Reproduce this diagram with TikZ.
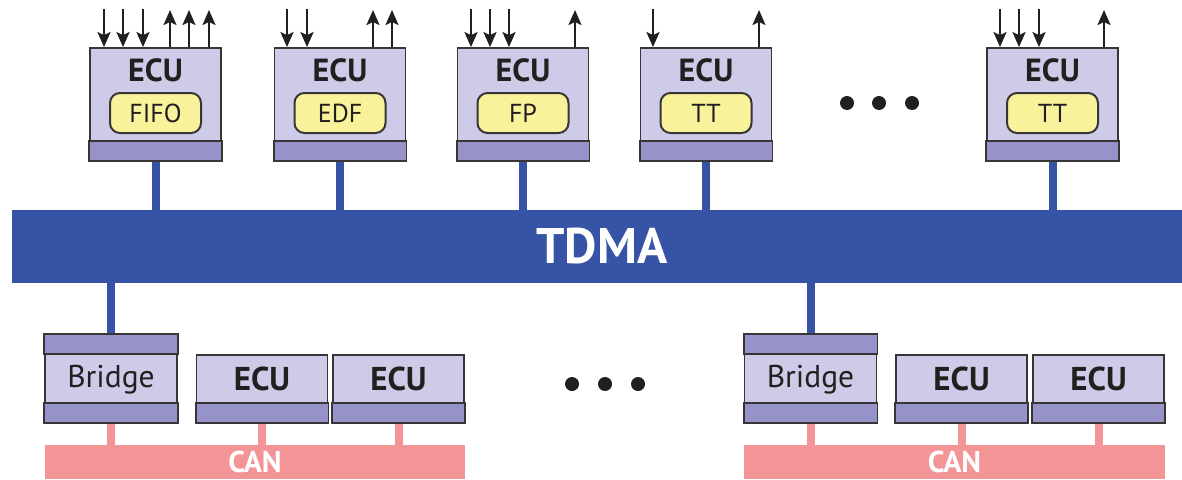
\documentclass[tikz,border=0pt]{standalone}
\usepackage{fontspec}
\setmainfont{PT Sans}
\usetikzlibrary{arrows.meta}
\definecolor{lav}{HTML}{CDCBE7}
\definecolor{band}{HTML}{9593C7}
\definecolor{yel}{HTML}{F8F39B}
\definecolor{busblue}{HTML}{3653A5}
\definecolor{canpink}{HTML}{F39596}
\definecolor{ink}{HTML}{231F20}
\tikzset{
  ecubox/.style={draw=ink!90, line width=1.8pt, fill=lav, minimum width=131pt, minimum height=112pt, inner sep=0pt},
  lowbox/.style={draw=ink!90, line width=1.8pt, fill=lav, minimum width=131pt, minimum height=67pt, inner sep=0pt},
  bridgebox/.style={draw=ink!90, line width=1.8pt, fill=lav, minimum width=132pt, minimum height=87pt, inner sep=0pt},
  bandfill/.style={draw=ink!90, line width=1.8pt, fill=band},
  schedbox/.style={draw=ink!90, line width=2pt, fill=yel, rounded corners=10pt, minimum width=91pt, minimum height=40pt, inner sep=0pt, font=\fontsize{26}{28}\selectfont, text=ink},
  ecutext/.style={font=\fontsize{32}{34}\selectfont\bfseries, text=ink, inner sep=0pt},
  lowtext/.style={font=\fontsize{33}{35}\selectfont\bfseries, text=ink, inner sep=0pt},
  bridgetext/.style={font=\fontsize{31.5}{34}\selectfont, text=ink, inner sep=0pt},
  bluestem/.style={draw=busblue, line width=8pt},
  pinkstem/.style={draw=canpink, line width=8pt},
  canbar/.style={fill=canpink, minimum height=34pt, inner sep=0pt, text=white, font=\fontsize{30}{32}\selectfont\bfseries},
  sig/.style={draw=ink, line width=2pt, -{Stealth[length=15pt,width=13pt,inset=3pt]}},
  dotmark/.style={circle, fill=ink, minimum size=14pt, inner sep=0pt},
}
\begin{document}
\begin{tikzpicture}[x=1pt,y=-1pt]
\useasboundingbox (0,0) rectangle (1182,479);
\fill[white] (0,0) rectangle (1182,479);

% TDMA bus
\node[fill=busblue, minimum width=1170pt, minimum height=73pt, inner sep=0pt] (bus) at (597,246.5) {};
\node[text=white, font=\fontsize{50}{52}\selectfont\bfseries, inner sep=0pt] (tdma) at (602,246.5) {TDMA};

% top ECUs
\foreach \n/\cx/\s in {1/155.5/FIFO, 2/340/EDF, 3/523/FP, 4/706/TT, 5/1052.5/TT}{
  \node[ecubox] (t\n) at (\cx,104) {};
  \draw[bluestem] (t\n.south) -- (t\n.south |- bus.north);
  \draw[bandfill] (t\n.south west) rectangle ([yshift=20pt]t\n.south east);
  \node[ecutext] (t\n lab) at (\cx,70) {ECU};
  \node[schedbox] (t\n s) at (\cx,113) {\s};
}

% input arrows (down)
\foreach \n/\x in {1/104,1/123,1/143,2/287,2/307,3/471,3/490,3/509,4/653,5/1000,5/1019,5/1039}{
  \coordinate (in\x) at (\x,9);
  \draw[sig] (in\x) -- (in\x |- t\n.north);
}
% output arrows (up)
\foreach \n/\x in {1/170,1/189,1/209,2/373,2/392,3/575,4/759,5/1104}{
  \coordinate (out\x) at (\x,10);
  \draw[sig] (out\x |- t\n.north) -- (out\x);
}

% dots
\node[dotmark] (d1) at (847,103) {};
\node[dotmark] (d2) at (879,103) {};
\node[dotmark] (d3) at (912,103) {};
\node[dotmark] (d4) at (572,384) {};
\node[dotmark] (d5) at (605,384) {};
\node[dotmark] (d6) at (638,384) {};

% CAN buses
\node[canbar, minimum width=420pt] (can1) at (255,462) {CAN};
\node[canbar, minimum width=421pt] (can2) at (954.5,462) {CAN};

% bottom left cluster
\node[bridgebox] (br1) at (111,378.5) {};
\node[lowbox] (e1) at (262,388.5) {};
\node[lowbox] (e2) at (398.5,388.5) {};
% bottom right cluster
\node[bridgebox] (br2) at (810.5,378.5) {};
\node[lowbox] (e3) at (961.5,388.5) {};
\node[lowbox] (e4) at (1098.5,388.5) {};

% stems
\draw[bluestem] (bus.south -| br1.north) -- (br1.north);
\draw[bluestem] (bus.south -| br2.north) -- (br2.north);
\foreach \b in {br1,e1,e2,br2,e3,e4}{
  \draw[pinkstem] (\b.south) -- (\b.south |- can1.north);
}
\foreach \b in {br1,br2}{
  \draw[bandfill] (\b.north west) rectangle ([yshift=-20pt]\b.north east);
  \draw[bandfill] (\b.south west) rectangle ([yshift=20pt]\b.south east);
  \node[bridgetext] (\b lab) at ([yshift=-1pt]\b.center) {Bridge};
}
\foreach \b in {e1,e2,e3,e4}{
  \draw[bandfill] (\b.south west) rectangle ([yshift=20pt]\b.south east);
  \node[lowtext] (\b lab) at ([yshift=10pt]\b.center) {ECU};
}
\end{tikzpicture}
\end{document}
